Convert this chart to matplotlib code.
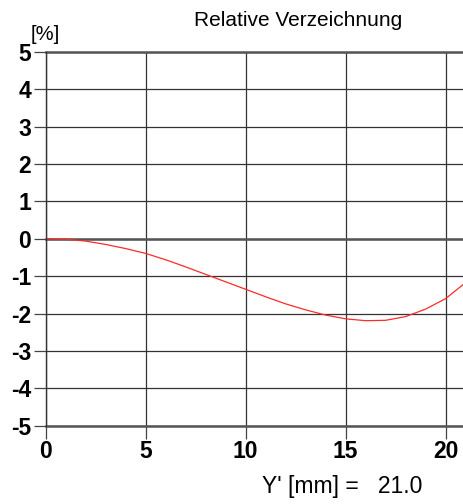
import matplotlib
matplotlib.use("Agg")
import matplotlib.pyplot as plt

# data
x_mm = [0, 1, 2, 3, 4, 5, 6, 7, 8, 9, 10, 11, 12, 13, 14, 15, 16, 17, 18, 19, 20, 21]
distortion = [0, -0.01, -0.06, -0.15, -0.26, -0.39, -0.56, -0.75, -0.95, -1.15, -1.35,
              -1.55, -1.74, -1.90, -2.04, -2.14, -2.19, -2.18, -2.08, -1.88, -1.60, -1.17]
x_ticks = [0, 5, 10, 15, 20]
y_ticks = [-5, -4, -3, -2, -1, 0, 1, 2, 3, 4, 5]

fam = ['Liberation Sans Narrow', 'Liberation Sans', 'DejaVu Sans']

fig = plt.figure(figsize=(4.64, 5.04), dpi=100)
ax = fig.add_axes([45.7/464, 1 - 425.7/504, (464 - 45.7)/464, (425.7 - 52)/504])
ax.plot(x_mm, distortion, color='#ff2a2a', lw=0.9)
ax.set_xlim(0, 20.92)
ax.set_ylim(-5, 5)
ax.set_xticks(x_ticks)
ax.set_yticks(y_ticks)
ax.set_xticklabels([str(t) for t in x_ticks], fontfamily=fam, fontweight='bold', fontsize=16.5)
ax.set_yticklabels([str(t) for t in y_ticks], fontfamily=fam, fontweight='bold', fontsize=16.5)
for s in ax.spines.values():
    s.set_visible(False)
ax.grid(True, color='#333333', lw=0.9)
for yv in (-5, 0, 5):
    ax.axhline(yv, color='#555555', lw=1.8, zorder=1.5, clip_on=False)
ax.axvline(0, color='#333333', lw=1.0, clip_on=False)
ax.tick_params(axis='both', length=9, width=0.9, color='#444444', pad=1.5)
ax.set_axisbelow(True)

fig.text(0.643, 1 - 20/504, 'Relative Verzeichnung', ha='center', va='center',
         fontfamily=fam, fontsize=15)
fig.text(31/464, 1 - 35/504, '[%]', ha='left', va='center', fontfamily=fam, fontsize=14.5)
fig.text(262/464, 1 - 486/504, "Y' [mm] =   21.0", ha='left', va='center',
         fontfamily=fam, fontsize=16.5)

fig.savefig('out.png', dpi=100)
